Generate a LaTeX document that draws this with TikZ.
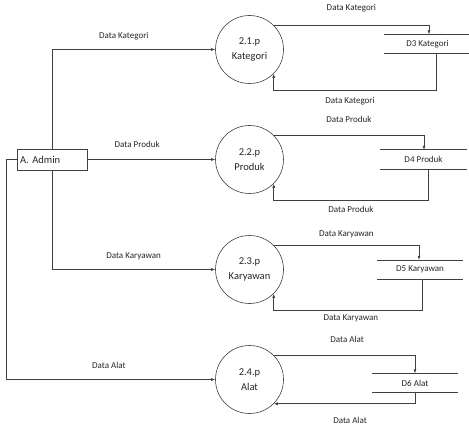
\documentclass[tikz,border=0pt]{standalone}
\usepackage{fontspec}
\setmainfont{Carlito}
\usepackage{tikz}
\usetikzlibrary{arrows.meta}

\begin{document}
\begin{tikzpicture}[
		x=1pt, y=-1pt, node distance=110pt,
		>={Latex[length=4pt,width=3pt]},
		garis/.style={draw=black!75, line width=0.6pt},
		proses/.style={circle,draw=black!75,line width=0.6pt,minimum size=68pt,inner sep=0pt,
			align=center,text=black!85,font=\fontsize{10.5}{15}\selectfont},
		entitas/.style={draw=black!75,line width=0.6pt,text width=64pt,align=left,inner sep=3pt,
			minimum height=21pt,text=black!85,font=\fontsize{10.5}{12}\selectfont},
		simpan/.style={minimum width=86pt,minimum height=19pt,inner sep=0pt,
			text=black!85,font=\fontsize{9}{11}\selectfont},
		ket/.style={inner sep=1pt,text height=6.5pt,text depth=2pt,
			text=black!85,font=\fontsize{9}{11}\selectfont}
		]
		\useasboundingbox (0,0) rectangle (469,425);

		\node[entitas](A) at (52,159.5){A. Admin};
		\node[proses, right of = A, xshift = 87.5pt](P2){2.2.p\\Produk};
		\node[proses, above of = P2](P1){2.1.p\\Kategori};
		\node[proses, below of = P2](P3){2.3.p\\Karyawan};
		\node[proses, below of = P3](P4){2.4.p\\Alat};

		\node[simpan, right of = P1, xshift = 68pt, yshift = 5.5pt](D3){D3 Kategori};
		\node[simpan, right of = P2, xshift = 64pt](D4){D4 Produk};
		\node[simpan, right of = P3, xshift = 60.5pt](D5){D5 Karyawan};
		\node[simpan, right of = P4, xshift = 55.5pt, yshift = -3.5pt](D6){D6 Alat};
		\foreach \s in {D3,D4,D5,D6}
			\draw[garis] (\s.north west) -- (\s.north east) (\s.south west) -- (\s.south east);

		% admin ke proses
		\draw[garis,->] (A.north) |- (P1.west) node [ket, pos=0.72, above=8pt]{Data Kategori};
		\draw[garis,->] (A.east) -- (P2.west) node [ket, pos=0.39, above=8.5pt]{Data Produk};
		\draw[garis,->] (A.south) |- (P3.west) node [ket, pos=0.75, above=7.5pt]{Data Karyawan};
		\draw[garis,->] (A.west) -- ++(-10,0) |- (P4.west) node [ket, pos=0.745, above=8pt]{Data Alat};

		% proses ke data store
		\draw[garis,->] (P1.45) -| ([xshift=1.5pt]D3.north) node [ket, pos=0.25, above=11pt]{Data Kategori};
		\draw[garis,->] ([xshift=8.5pt]D3.south) |- ([yshift=-17pt]P1.-45) node [ket, pos=0.765, below=4.5pt]{Data Kategori} -- (P1.-45);
		\draw[garis,->] (P2.45) -| ([xshift=0.5pt]D4.north) node [ket, pos=0.25, above=9pt]{Data Produk};
		\draw[garis,->] ([xshift=4.5pt]D4.south) |- ([yshift=-17pt]P2.-45) node [ket, pos=0.75, below=3.5pt]{Data Produk} -- (P2.-45);
		\draw[garis,->] (P3.45) -| ([xshift=-1pt]D5.north) node [ket, pos=0.25, above=5pt]{Data Karyawan};
		\draw[garis,->] ([xshift=2pt]D5.south) |- ([yshift=-16.5pt]P3.-45) node [ket, pos=0.74, below=2.5pt]{Data Karyawan} -- (P3.-45);
		\draw[garis,->] (P4.45) -| (D6.north) node [ket, pos=0.26, above=9pt]{Data Alat};
		\draw[garis,->] (D6.south) |- (P4.-45) node [ket, pos=0.73, below=11.5pt]{Data Alat};
	\end{tikzpicture}
\end{document}
